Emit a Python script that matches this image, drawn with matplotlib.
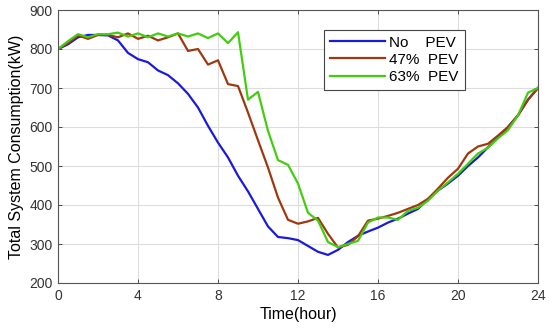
import matplotlib
matplotlib.use("Agg")
import matplotlib.pyplot as plt
import numpy as np

hours = np.arange(0, 24.01, 0.5)
no_pev = [800, 812, 830, 836, 836, 835, 822, 790, 774, 766, 745, 733, 712, 685, 650, 603,
          560, 522, 475, 435, 390, 345, 318, 315, 310, 295, 280, 272, 285, 305, 321, 332,
          342, 355, 365, 378, 390, 415, 437, 455, 475, 500, 522, 548, 573, 600, 630, 670, 700]
pev47 = [800, 815, 835, 826, 836, 836, 830, 840, 826, 834, 822, 830, 840, 795, 800, 760,
         771, 710, 705, 637, 566, 496, 419, 362, 352, 358, 367, 326, 291, 298, 320, 360,
         365, 372, 380, 390, 400, 416, 442, 470, 493, 532, 550, 557, 578, 600, 630, 670, 700]
pev63 = [800, 820, 838, 830, 838, 838, 842, 832, 840, 830, 840, 832, 840, 832, 840, 828,
         840, 815, 843, 670, 690, 590, 515, 503, 455, 380, 360, 305, 292, 300, 308, 355,
         368, 368, 362, 385, 393, 411, 437, 458, 480, 506, 532, 547, 571, 592, 630, 688, 700]
labels = ["No    PEV", "47%  PEV", "63%  PEV"]
xticks = [0, 4, 8, 12, 16, 20, 24]
yticks = [200, 300, 400, 500, 600, 700, 800, 900]

plt.rcParams['font.family'] = ['Liberation Sans', 'DejaVu Sans']
fig = plt.figure(figsize=(5.5, 3.36), dpi=100)
ax = fig.add_axes([58/550, 1 - 283/336, 480/550, 273/336])

ax.plot(hours, no_pev, color='#1a1adc', lw=1.6, label=labels[0])
ax.plot(hours, pev47, color='#a0380f', lw=1.6, label=labels[1])
ax.plot(hours, pev63, color='#44cc11', lw=1.6, label=labels[2])

ax.set_xlim(0, 24)
ax.set_ylim(200, 900)
ax.set_xticks(xticks)
ax.set_yticks(yticks)
ax.grid(True, color='#dddddd', lw=0.8)
ax.set_axisbelow(True)
ax.tick_params(direction='in', top=True, right=True, labelsize=10, colors='#333333',
               length=3, width=0.6, pad=4)
for s in ax.spines.values():
    s.set_color('#555555')
    s.set_linewidth(0.8)
ax.set_xlabel("Time(hour)", fontsize=11.5, labelpad=3)
ax.set_ylabel("Total System Consumption(kW)", fontsize=11.5, labelpad=4)

leg = ax.legend(loc='upper left', bbox_to_anchor=(258/480, (283-22)/273), fontsize=11,
                fancybox=False, framealpha=1, edgecolor='#444444', handlelength=3.6,
                borderpad=0.4, labelspacing=0.2, handletextpad=0.3)
leg.get_frame().set_linewidth(0.8)

fig.savefig("out.png", dpi=100)
